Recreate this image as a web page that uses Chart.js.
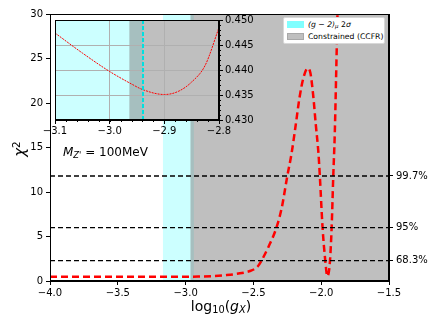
<!DOCTYPE html>
<html>
<head>
<meta charset="utf-8">
<script src="https://cdn.jsdelivr.net/npm/chart.js@4.4.0/dist/chart.umd.min.js"></script>
<style>
  html, body { margin: 0; padding: 0; background: #fff; }
  #wrap { position: relative; width: 436px; height: 327px; font-family: "DejaVu Sans", sans-serif; color: #000; }
  #main { position: absolute; left: 0; top: 0; }
  #inset { position: absolute; left: 40px; top: 12px; }
  .lbl { position: absolute; white-space: nowrap; }
  #xtitle { left: 0; width: 436px; text-align: center; top: 298px; font-size: 14px; padding-left: 6px; box-sizing: border-box; }
  #ytitle { left: 12px; top: 140px; font-size: 15px; transform: rotate(-90deg); transform-origin: center; }
  #mass { left: 63px; top: 145px; font-size: 12px; }
  #legend { position: absolute; left: 283px; top: 17px; width: 102px; height: 27px; background: #fff; border: 1px solid #d8d8d8; border-radius: 2px; box-sizing: border-box; font-size: 7.7px; }
  .row { position: absolute; left: 3px; height: 10px; line-height: 10px; white-space: nowrap; }
  .patch { display: inline-block; width: 17px; height: 7px; vertical-align: middle; margin-right: 4px; box-sizing: border-box; }
  sub { font-size: 70%; vertical-align: -0.25em; line-height: 0; }
  sup { font-size: 70%; vertical-align: 0.5em; line-height: 0; }
</style>
</head>
<body>
<div id="wrap">
  <canvas id="main" width="436" height="327"></canvas>
  <canvas id="inset" width="232" height="128"></canvas>
  <div class="lbl" id="xtitle">log<sub>10</sub>(<i>g<sub>X</sub></i>)</div>
  <div class="lbl" id="ytitle"><i>χ</i><sup>2</sup></div>
  <div class="lbl" id="mass"><i>M<sub>Z'</sub></i> = 100MeV</div>
  <div id="legend">
    <div class="row" style="top:2px"><span class="patch" style="background:#80ffff"></span><i>(g − 2)<sub>μ</sub></i> 2<i>σ</i></div>
    <div class="row" style="top:14px"><span class="patch" style="background:#bfbfbf;border:1px solid #a8a8a8"></span>Constrained (CCFR)</div>
  </div>
</div>
<script>
// --- Datos ---
const gx = [-4.0, -3.8, -3.6, -3.4, -3.2, -3.0, -2.9, -2.8, -2.7, -2.6, -2.52, -2.47, -2.44, -2.39, -2.33, -2.29, -2.25, -2.22, -2.19, -2.16, -2.13, -2.10, -2.08, -2.06, -2.04, -2.02, -2.01, -1.99, -1.97, -1.955, -1.945, -1.935, -1.923, -1.911, -1.90, -1.89, -1.88, -1.87];
const chi2 = [0.48, 0.48, 0.48, 0.48, 0.48, 0.48, 0.5, 0.54, 0.66, 0.86, 1.15, 1.6, 2.3, 3.8, 6.0, 8.3, 11.8, 14.2, 17.3, 20.6, 22.9, 23.9, 23.4, 21.0, 17.6, 14.3, 11.8, 6.0, 2.3, 0.55, 0.9, 2.3, 6.0, 11.8, 16.5, 23.0, 30.0, 37.0];

const clLevels = [2.30, 5.99, 11.8];
const clLabels = ['68.3%', '95%', '99.7%'];

const g2Band = [-3.167, -2.939];
const ccfrBand = [-2.964, -1.5];

const xRange = [-4.0, -1.5];
const yRange = [0, 30];

// recuadro (zoom)
const insetGx = [-3.1, -3.05, -3.0, -2.96, -2.94, -2.9, -2.875, -2.85, -2.825, -2.8];
const insetChi2 = [0.4474, 0.4434, 0.4397, 0.4372, 0.4361, 0.4351, 0.4357, 0.4376, 0.4410, 0.4485];
const insetXRange = [-3.1, -2.8];
const insetYRange = [0.430, 0.450];
const insetG2Edge = -2.939;

const FONT = { family: 'DejaVu Sans', size: 10 };
const minus = s => s.replace('-', '\u2212');

// --- Plugins ---
const bandsPlugin = {
    id: 'bands',
    beforeDraw(chart) {
        const { ctx, chartArea: a, scales: { x } } = chart;
        ctx.save();
        ctx.beginPath();
        ctx.rect(a.left, a.top, a.right - a.left, a.bottom - a.top);
        ctx.clip();
        ctx.fillStyle = '#ffffff';
        ctx.fillRect(a.left, a.top, a.right - a.left, a.bottom - a.top);
        const paint = (band, color) => {
            const x0 = x.getPixelForValue(band[0]);
            const x1 = x.getPixelForValue(band[1]);
            ctx.fillStyle = color;
            ctx.fillRect(x0, a.top, x1 - x0, a.bottom - a.top);
        };
        paint(g2Band, 'rgb(204,255,255)');
        paint(ccfrBand, 'rgba(128,128,128,0.5)');
        ctx.restore();
    },
    afterDraw(chart) {
        const { ctx, chartArea: a } = chart;
        ctx.save();
        ctx.strokeStyle = '#000';
        ctx.lineWidth = 1;
        ctx.strokeRect(Math.round(a.left) + 0.5, Math.round(a.top) + 0.5, Math.round(a.right - a.left) - 1, Math.round(a.bottom - a.top) - 1);
        ctx.restore();
    }
};

const insetExtras = {
    id: 'insetExtras',
    afterDatasetsDraw(chart) {
        const { ctx, chartArea: a, scales: { x, y } } = chart;
        ctx.save();
        // línea discontinua cian
        const px = x.getPixelForValue(insetG2Edge);
        ctx.strokeStyle = '#00e0e0';
        ctx.lineWidth = 2;
        ctx.setLineDash([4, 2]);
        ctx.beginPath();
        ctx.moveTo(px, a.top);
        ctx.lineTo(px, a.bottom);
        ctx.stroke();
        ctx.setLineDash([]);
        // ticks menores
        ctx.strokeStyle = '#000';
        ctx.lineWidth = 1;
        ctx.beginPath();
        for (let i = 0; i <= 15; i++) {
            const v = insetXRange[0] + i * 0.02;
            const p = Math.round(x.getPixelForValue(v)) + 0.5;
            ctx.moveTo(p, a.bottom);
            ctx.lineTo(p, a.bottom + 2);
        }
        for (let i = 0; i <= 20; i++) {
            const v = insetYRange[0] + i * 0.001;
            const p = Math.round(y.getPixelForValue(v)) + 0.5;
            ctx.moveTo(a.right, p);
            ctx.lineTo(a.right + 2, p);
        }
        ctx.stroke();
        ctx.strokeRect(Math.round(a.left) + 0.5, Math.round(a.top) + 0.5, Math.round(a.right - a.left) - 1, Math.round(a.bottom - a.top) - 1);
        ctx.restore();
    }
};

// --- Gráfica principal ---
const clDatasets = clLevels.map(v => ({
    data: [{ x: xRange[0], y: v }, { x: xRange[1], y: v }],
    borderColor: '#000',
    borderWidth: 1.3,
    borderDash: [5, 3],
    pointRadius: 0
}));

new Chart(document.getElementById('main'), {
    type: 'line',
    data: {
        datasets: [
            ...clDatasets,
            {
                data: gx.map((v, i) => ({ x: v, y: chi2[i] })),
                borderColor: 'rgb(255,0,0)',
                borderWidth: 2.5,
                borderDash: [7, 4],
                pointRadius: 0,
                cubicInterpolationMode: 'monotone'
            }
        ]
    },
    options: {
        responsive: false,
        animation: false,
        devicePixelRatio: 1,
        layout: { padding: { top: 14, left: 0, right: 0, bottom: 0 } },
        plugins: { legend: { display: false }, tooltip: { enabled: false } },
        scales: {
            x: {
                type: 'linear', min: xRange[0], max: xRange[1],
                afterFit: s => { s.height = 46; },
                ticks: { stepSize: 0.5, font: FONT, color: '#000', padding: 2, callback: v => minus(v.toFixed(1)) },
                grid: { drawOnChartArea: false, color: '#000', tickLength: 4 },
                border: { color: '#000' }
            },
            y: {
                type: 'linear', min: yRange[0], max: yRange[1],
                afterFit: s => { s.width = 50; },
                ticks: { stepSize: 5, font: FONT, color: '#000', padding: 3 },
                grid: { drawOnChartArea: false, color: '#000', tickLength: 4 },
                border: { color: '#000' }
            },
            y2: {
                type: 'linear', position: 'right', min: yRange[0], max: yRange[1],
                afterFit: s => { s.width = 47; },
                afterBuildTicks: s => { s.ticks = clLevels.map(v => ({ value: v })); },
                ticks: { font: FONT, color: '#000', padding: 3, callback: (v, i) => clLabels[i] },
                grid: { drawOnChartArea: false, color: '#000', tickLength: 4 },
                border: { color: '#000' }
            }
        }
    },
    plugins: [bandsPlugin]
});

// --- Recuadro ---
new Chart(document.getElementById('inset'), {
    type: 'line',
    data: {
        datasets: [{
            data: insetGx.map((v, i) => ({ x: v, y: insetChi2[i] })),
            borderColor: 'rgb(255,0,0)',
            borderWidth: 1,
            borderDash: [2, 1],
            pointRadius: 0,
            cubicInterpolationMode: 'monotone'
        }]
    },
    options: {
        responsive: false,
        animation: false,
        devicePixelRatio: 1,
        layout: { padding: { top: 7, left: 15, right: 0, bottom: 0 } },
        plugins: { legend: { display: false }, tooltip: { enabled: false } },
        scales: {
            x: {
                type: 'linear', min: insetXRange[0], max: insetXRange[1],
                afterFit: s => { s.height = 20; },
                ticks: { stepSize: 0.1, font: FONT, color: '#000', padding: 1, callback: v => minus(v.toFixed(1)) },
                grid: { color: '#b0b0b0', tickColor: '#000', tickLength: 4 },
                border: { color: '#000' }
            },
            y: {
                type: 'linear', position: 'right', min: insetYRange[0], max: insetYRange[1],
                afterFit: s => { s.width = 53; },
                ticks: { stepSize: 0.005, font: FONT, color: '#000', padding: 2, callback: v => v.toFixed(3) },
                grid: { color: '#b0b0b0', tickColor: '#000', tickLength: 4 },
                border: { color: '#000' }
            }
        }
    },
    plugins: [bandsPlugin, insetExtras]
});
</script>
</body>
</html>
